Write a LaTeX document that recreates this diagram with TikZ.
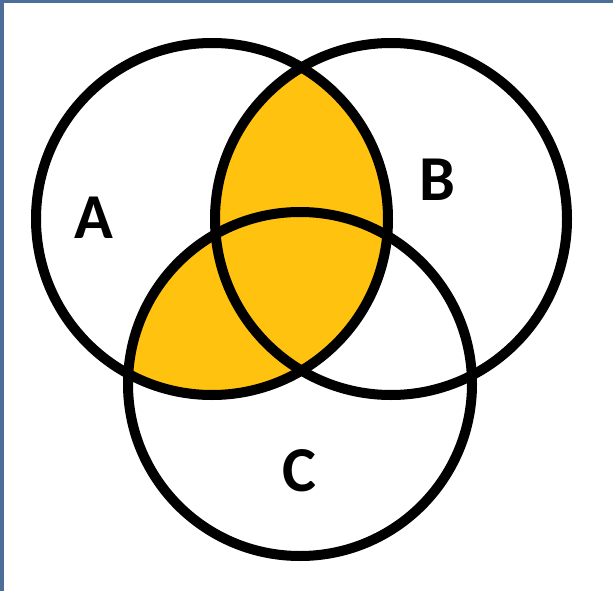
\documentclass[tikz,border=0pt]{standalone}
\usepackage{fontspec}
\setmainfont{Carlito}
\definecolor{gold}{HTML}{FFC20E}
\definecolor{frameblue}{HTML}{4E6E9A}
\tikzset{
  ring/.style={draw=black, line width=10pt},
  setlabel/.style={font=\fontsize{64}{64}\selectfont\bfseries, text=black, inner sep=0pt}
}
\begin{document}
\begin{tikzpicture}[x=1pt, y=-1pt]
\useasboundingbox (0,0) rectangle (613,591);
\fill[white] (0,0) rectangle (613,591);
\fill[frameblue] (0,0) rectangle (4,591);
\fill[frameblue] (0,0) rectangle (613,3);
\begin{scope}
  \clip (212,219) circle[radius=176];
  \fill[gold] (391,219) circle[radius=176];
  \fill[gold] (300,384) circle[radius=172];
\end{scope}
\draw[ring] (212,219) circle[radius=176];
\draw[ring] (391,219) circle[radius=176];
\draw[ring] (300,384) circle[radius=172];
\node[setlabel] (A) at (94,218) {A};
\node[setlabel] (B) at (437,180) {B};
\node[setlabel] (C) at (299,471) {C};
\end{tikzpicture}
\end{document}
